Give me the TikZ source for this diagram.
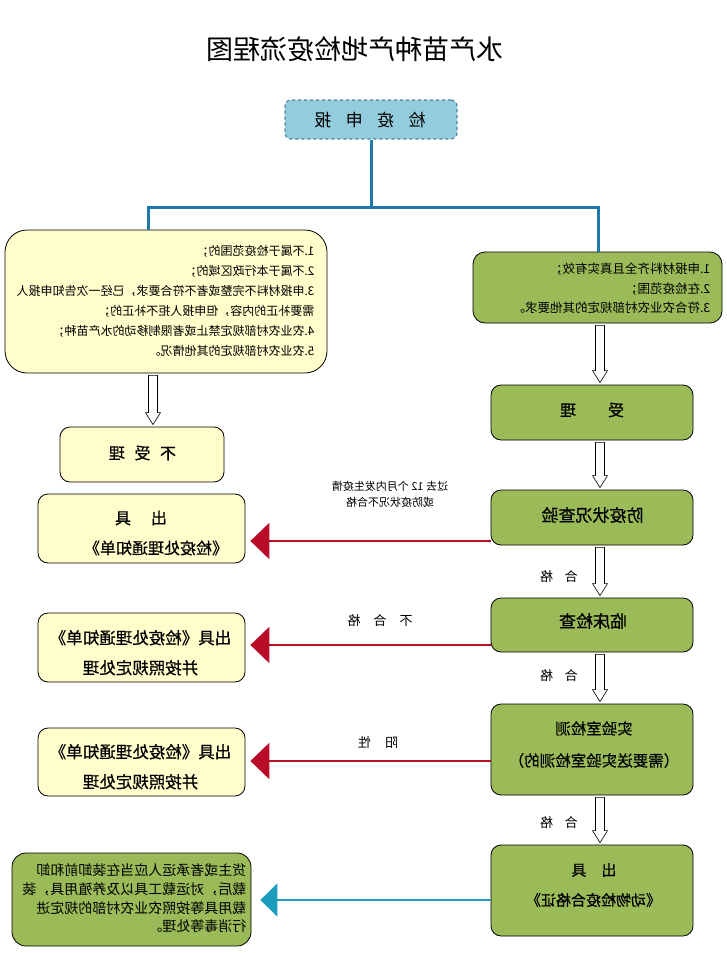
\documentclass[tikz,border=0pt]{standalone}
\usepackage{fontspec}
\setmainfont{Noto Sans CJK SC}
\newfontfamily\heavy{Noto Sans CJK SC}[FakeBold=0.5]
\usepackage{graphicx}
\usetikzlibrary{arrows.meta,calc}
\definecolor{myyellow}{HTML}{FFFDCB}
\definecolor{mygreen}{HTML}{9BBB59}
\definecolor{myblue}{HTML}{93CDDD}
\definecolor{mydash}{HTML}{4F7FA0}
\definecolor{treeblue}{RGB}{31,120,170}
\definecolor{myred}{RGB}{185,12,40}
\definecolor{myteal}{RGB}{27,157,187}
\newcommand\mir[1]{\reflectbox{#1}}
\newcommand\mlines[2]{\reflectbox{\begin{tabular}{@{}#1@{}}#2\end{tabular}}}
\newcommand\hollowarr[3]{%
  \draw[harrow] let \p1=(#1.south), \p2=(#2.north), \p3=(#3) in
    (\x3-4.5pt,\y1-2pt) -- (\x3-4.5pt,\y2+14pt) -- (\x3-7.5pt,\y2+14pt) --
    (\x3,\y2+2pt) -- (\x3+7.5pt,\y2+14pt) -- (\x3+4.5pt,\y2+14pt) --
    (\x3+4.5pt,\y1-2pt) -- cycle;}
\begin{document}
\begin{tikzpicture}[x=1pt,y=-1pt,
  box/.style={draw=black, line width=0.8pt, rounded corners=10pt, inner sep=0pt},
  ybox/.style={box, fill=myyellow},
  gbox/.style={box, fill=mygreen},
  txt/.style={inner sep=0pt},
  harrow/.style={draw=black, line width=0.6pt, fill=white},
  tree/.style={draw=treeblue, line width=3pt},
  redarr/.style={draw=myred, line width=2.6pt, shorten >=5pt, -{Triangle[length=19pt,width=36pt]}},
  tealarr/.style={draw=myteal, line width=2.4pt, shorten >=9pt, -{Triangle[length=17pt,width=33pt]}}
]
\useasboundingbox (0,0) rectangle (726,953);

% title
\node[txt, font=\fontsize{27}{30}\selectfont] (title) at (355,49) {\mir{水产苗种产地检疫流程图}};

% top box
\node[box, draw=mydash, dashed, line width=1.2pt, fill=myblue, rounded corners=6pt,
      minimum width=172pt, minimum height=39pt] (top) at (371,119.5) {};
\node[txt, font=\fontsize{17}{20}\selectfont] (topt) at (370,120) {\mir{检\hspace{0.85em}疫\hspace{0.85em}申\hspace{0.85em}报}};

% branch boxes
\node[ybox, rounded corners=22pt, minimum width=322pt, minimum height=143pt] (leftbig) at (166,301.5) {};
\node[txt, font=\fontsize{12}{20}\selectfont] (leftbigt) at (165.5,301.5) {\mlines{l}{%
1.不属于检疫范围的；\\
2.不属于本行政区域的；\\
3.申报材料不完整或者不符合要求，已经一次告知申报人\\
需要补正的内容，但申报人拒不补正的；\\
4.农业农村部规定禁止或者限制移动的水产苗种；\\
5.农业农村部规定的其他情况。}};

\node[gbox, rounded corners=12pt, minimum width=249pt, minimum height=71pt] (rightg) at (597.5,287.5) {};
\node[txt, font=\fontsize{12.5}{19.5}\selectfont] (rightgt) at (611.5,289.5) {\mlines{l}{%
1.申报材料齐全且真实有效；\\
2.在检疫范围；\\
3.符合农业农村部规定的其他要求。}};

% tree connector
\coordinate (bl) at (148,207);
\coordinate (br) at (598,207);
\draw[tree] (top.south) -- (top.south |- bl);
\draw[tree] (bl |- leftbig.north) -- (bl) -- (br) -- (br |- rightg.north);

% left column
\node[ybox, minimum width=164pt, minimum height=55pt] (notacc) at (142,454.5) {};
\node[txt, font=\heavy\fontsize{16}{20}\selectfont] (notacct) at (142.5,453) {\mir{不\hspace{0.6em}受\hspace{0.6em}理}};

\node[ybox, minimum width=207pt, minimum height=69pt] (notice1) at (141.5,528.5) {};
\node[txt, font=\heavy\fontsize{16}{20}\selectfont] (n1a) at (141,518) {\mir{出\hspace{1.25em}具}};
\node[txt, font=\heavy\fontsize{16}{20}\selectfont] (n1b) at (156,548) {\mir{《检疫处理通知单》}};

\node[ybox, minimum width=207pt, minimum height=69pt] (notice2) at (141.5,647.5) {};
\node[txt, font=\heavy\fontsize{16.5}{30}\selectfont] (n2t) at (140.5,653) {\mlines{c}{出具《检疫处理通知单》\\并按照规定处理}};

\node[ybox, minimum width=207pt, minimum height=68pt] (notice3) at (141.5,762) {};
\node[txt, font=\heavy\fontsize{16.5}{30}\selectfont] (n3t) at (140.5,767) {\mlines{c}{出具《检疫处理通知单》\\并按照规定处理}};

\node[gbox, rounded corners=14pt, minimum width=239pt, minimum height=93pt] (disinfect) at (131.5,899.5) {};
\node[txt, font=\fontsize{14}{18.7}\selectfont] (disinfectt) at (134.5,900) {\mlines{l}{%
货主或者承运人应当在装卸前和卸\\
载后，对运载工具以及养殖用具，装\\
载用具等按照农业农村部的规定进\\
行消毒等处理。}};

% right column
\node[gbox, minimum width=202pt, minimum height=55pt] (shouli) at (592,412.5) {};
\node[txt, font=\heavy\fontsize{16}{20}\selectfont] (shoulit) at (592,410) {\mir{受\hspace{2em}理}};

\node[gbox, minimum width=202pt, minimum height=55pt] (fangyi) at (592,517.5) {};
\node[txt, font=\heavy\fontsize{17}{20}\selectfont] (fangyit) at (592.5,515) {\mir{防疫状况查验}};

\node[gbox, minimum width=202pt, minimum height=54pt] (linchuang) at (592,625) {};
\node[txt, font=\heavy\fontsize{17}{20}\selectfont] (linchuangt) at (593,621) {\mir{临床检查}};

\node[gbox, minimum width=202pt, minimum height=91pt] (shiyan) at (592,749.5) {};
\node[txt, font=\heavy\fontsize{15.5}{32}\selectfont] (shiyant) at (594,744) {\mlines{c}{实验室检测\\（需要送实验室检测的）}};

\node[gbox, minimum width=202pt, minimum height=91pt] (chuju) at (592,890.5) {};
\node[txt, font=\heavy\fontsize{15}{20}\selectfont] (chujua) at (594,870) {\mir{出\hspace{1em}具}};
\node[txt, font=\heavy\fontsize{15}{20}\selectfont] (chujub) at (593.5,900) {\mir{《动物检疫合格证》}};

% hollow arrows
\coordinate (colR) at (600,0);
\coordinate (colL) at (153,0);
\hollowarr{leftbig}{notacc}{colL}
\hollowarr{rightg}{shouli}{colR}
\hollowarr{shouli}{fangyi}{colR}
\hollowarr{fangyi}{linchuang}{colR}
\hollowarr{linchuang}{shiyan}{colR}
\hollowarr{shiyan}{chuju}{colR}

% pass labels
\node[txt, font=\fontsize{13}{16}\selectfont] (ok1) at (559,577) {\mir{合\hspace{0.9em}格}};
\node[txt, font=\fontsize{13}{16}\selectfont] (ok2) at (559,676) {\mir{合\hspace{0.9em}格}};
\node[txt, font=\fontsize{13}{16}\selectfont] (ok3) at (559,823) {\mir{合\hspace{0.9em}格}};

% red arrows
\coordinate (r1) at (fangyi.west |- 0,541);
\coordinate (r2) at (linchuang.west |- 0,645);
\coordinate (r3) at (shiyan.west |- 0,761);
\draw[redarr] (r1) -- (r1 -| notice1.east);
\draw[redarr] (r2) -- (r2 -| notice2.east);
\draw[redarr] (r3) -- (r3 -| notice3.east);
\node[txt, font=\fontsize{11}{16}\selectfont] (l1) at (390,495) {\mlines{c}{过去 12 个月内发生疫情\\或防疫状况不合格}};
\node[txt, font=\fontsize{13}{16}\selectfont] (l2) at (380,621) {\mir{不\hspace{1em}合\hspace{1em}格}};
\node[txt, font=\fontsize{13}{16}\selectfont] (l3) at (378,743) {\mir{阳\hspace{1.1em}性}};

% teal arrow
\coordinate (t1) at (chuju.west |- 0,900);
\draw[tealarr] (t1) -- (t1 -| disinfect.east);
\end{tikzpicture}
\end{document}
